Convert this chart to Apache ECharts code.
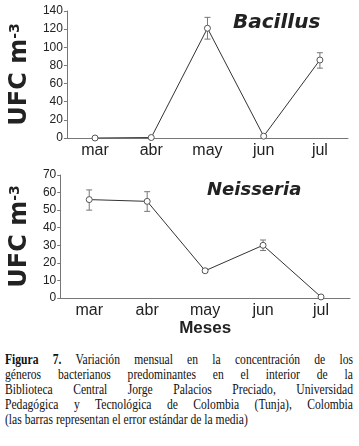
<!DOCTYPE html>
<html>
<head>
<meta charset="utf-8">
<script src="https://cdn.jsdelivr.net/npm/echarts@6/dist/echarts.min.js"></script>
<style>
  body { margin: 0; background: #fff; }
  #chart { width: 359px; height: 345px; }
  #caption {
    position: absolute; left: 5px; top: 352px; width: 435px;
    transform: scaleX(0.8); transform-origin: 0 0;
    font-family: "Liberation Serif", "Times New Roman", serif; font-size: 14.5px; line-height: 15px; color: #111;
  }
  #caption p { margin: 0; text-align: justify; text-align-last: justify; white-space: nowrap; }
  #caption p.last { text-align-last: left; }
</style>
</head>
<body>
<div id="chart"></div>
<div id="caption">
  <p><b>Figura 7.</b> Variación mensual en la concentración de los</p>
  <p>géneros bacterianos predominantes en el interior de la</p>
  <p>Biblioteca Central Jorge Palacios Preciado, Universidad</p>
  <p>Pedagógica y Tecnológica de Colombia (Tunja), Colombia</p>
  <p class="last">(las barras representan el error estándar de la media)</p>
</div>
<script>
const months = ['mar', 'abr', 'may', 'jun', 'jul'];

const bacillusMean = [0, 0.5, 121, 2, 86];
const bacillusLow = [0, 0.5, 109, 2, 77];
const bacillusHigh = [0, 0.5, 133, 2, 94];

const neisseriaMean = [56, 55, 15.5, 30, 0.6];
const neisseriaLow = [50, 49.3, 14.5, 27, 0.6];
const neisseriaHigh = [61.5, 60.5, 16.5, 33, 0.6];

const yNameRich = {
  a: { fontFamily: 'DejaVu Sans', fontWeight: 'bold', fontSize: 24, color: '#222' },
  b: { fontFamily: 'DejaVu Sans', fontWeight: 'bold', fontSize: 14, color: '#222', verticalAlign: 'top' }
};

function errorBars(params, api) {
  const x = api.value(0);
  const lo = api.value(1);
  const hi = api.value(2);
  if (hi === lo) return null;
  const top = api.coord([x, hi]);
  const bot = api.coord([x, lo]);
  const w = 3;
  const st = { stroke: '#777', lineWidth: 1 };
  return {
    type: 'group',
    children: [
      { type: 'line', shape: { x1: top[0], y1: top[1], x2: bot[0], y2: bot[1] }, style: st },
      { type: 'line', shape: { x1: top[0] - w, y1: top[1], x2: top[0] + w, y2: top[1] }, style: st },
      { type: 'line', shape: { x1: bot[0] - w, y1: bot[1], x2: bot[0] + w, y2: bot[1] }, style: st }
    ]
  };
}

function xAxisOf(idx, withName) {
  return {
    type: 'category',
    gridIndex: idx,
    data: months,
    boundaryGap: true,
    axisLine: { lineStyle: { color: '#777', width: 1 } },
    axisTick: { length: 4, lineStyle: { color: '#777' } },
    axisLabel: { fontFamily: 'Liberation Sans', fontSize: 16, color: '#222', margin: 5 },
    name: withName ? 'Meses' : '',
    nameLocation: 'middle',
    nameGap: 22,
    nameTextStyle: { fontFamily: 'Liberation Sans', fontWeight: 'bold', fontSize: 17, color: '#222', verticalAlign: 'top' }
  };
}

function yAxisOf(idx, max, interval) {
  return {
    type: 'value',
    gridIndex: idx,
    min: 0,
    max: max,
    interval: interval,
    splitLine: { show: false },
    axisLine: { show: true, lineStyle: { color: '#777', width: 1 } },
    axisTick: { show: true, length: 3, lineStyle: { color: '#777' } },
    axisLabel: { fontFamily: 'Liberation Sans', fontSize: 12, color: '#222', margin: 4 },
    name: '{a|UFC m}{b|-3}',
    nameLocation: 'middle',
    nameRotate: 90,
    nameGap: 26,
    nameTextStyle: { rich: yNameRich }
  };
}

function lineSeries(idx, values) {
  return {
    type: 'line',
    xAxisIndex: idx,
    yAxisIndex: idx,
    data: values,
    symbol: 'circle',
    symbolSize: 6,
    showSymbol: true,
    z: 3,
    lineStyle: { color: '#333', width: 1 },
    itemStyle: { color: '#fff', borderColor: '#555', borderWidth: 1 }
  };
}

function errSeries(idx, low, high) {
  return {
    type: 'custom',
    xAxisIndex: idx,
    yAxisIndex: idx,
    renderItem: errorBars,
    encode: { x: 0, y: [1, 2] },
    z: 2,
    data: months.map((m, i) => [i, low[i], high[i]])
  };
}

const chart = echarts.init(document.getElementById('chart'));
chart.setOption({
  animation: false,
  grid: [
    { left: 58, right: 11, top: 11, height: 127 },
    { left: 58, right: 9, top: 175, height: 123 }
  ],
  xAxis: [xAxisOf(0, false), xAxisOf(1, true)],
  yAxis: [yAxisOf(0, 140, 20), yAxisOf(1, 70, 10)],
  graphic: [
    { type: 'text', left: 233, top: 13, style: { text: 'Bacillus', font: 'italic bold 20px "DejaVu Sans"', fill: '#222' } },
    { type: 'text', left: 207, top: 181, style: { text: 'Neisseria', font: 'italic bold 18px "DejaVu Sans"', fill: '#222' } }
  ],
  series: [
    errSeries(0, bacillusLow, bacillusHigh),
    lineSeries(0, bacillusMean),
    errSeries(1, neisseriaLow, neisseriaHigh),
    lineSeries(1, neisseriaMean)
  ]
});
</script>
</body>
</html>
